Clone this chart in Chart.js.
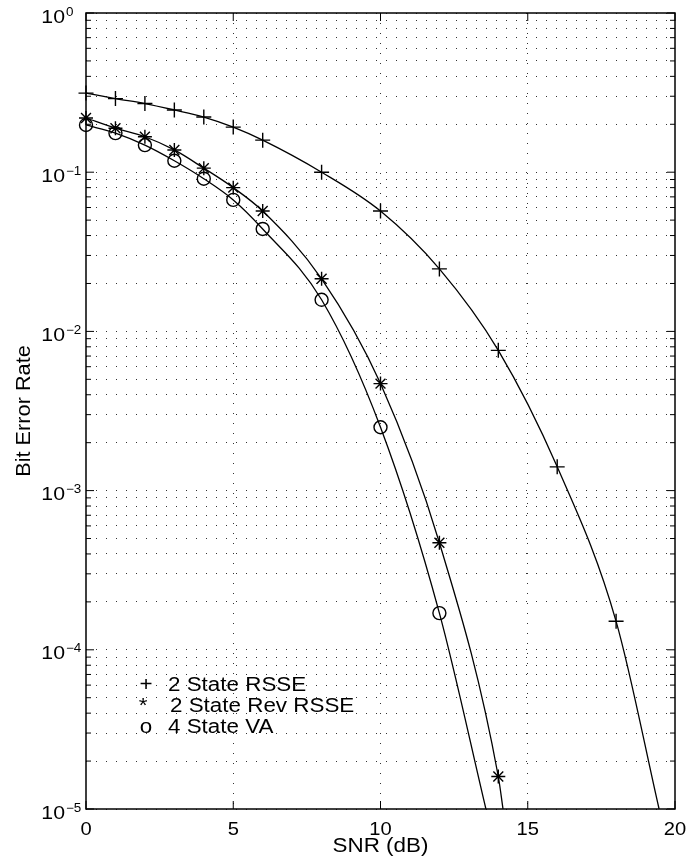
<!DOCTYPE html>
<html>
<head>
<meta charset="utf-8">
<script src="https://cdn.jsdelivr.net/npm/chart.js@4/dist/chart.umd.min.js"></script>
<style>
  html, body { margin: 0; padding: 0; background: #fff; }
  canvas { display: block; }
</style>
</head>
<body>
<canvas id="c" width="700" height="867"></canvas>
<script>
// ---- data ----
const snr1 = [0, 1, 2, 3, 4, 5, 6, 8, 10, 12, 14, 16, 18];
const ber1 = [0.314, 0.29, 0.27, 0.246, 0.222, 0.192, 0.159, 0.1, 0.057, 0.0247, 0.0076, 0.00141, 0.000151];

const snr2 = [0, 1, 2, 3, 4, 5, 6, 8, 10, 12, 14];
const ber2 = [0.219, 0.189, 0.167, 0.138, 0.106, 0.080, 0.057, 0.0214, 0.0047, 0.00047, 0.000016];

const snr3 = [0, 1, 2, 3, 4, 5, 6, 8, 10, 12];
const ber3 = [0.198, 0.176, 0.148, 0.118, 0.091, 0.067, 0.044, 0.0158, 0.0025, 0.00017];

// where each fitted curve leaves the plot at the bottom axis
const curveEndSnr = [19.46, 14.16, 13.58];
const curveEndBer = 1e-5;

const xTickValues = [0, 5, 10, 15, 20];
const yDecades = [-5, -4, -3, -2, -1, 0];
const yMinorMultipliers = [2, 3, 4, 5, 6, 7, 8, 9];

const seriesNames = ['2 State RSSE', '2 State Rev RSSE', '4 State VA'];
const legendSymbols = ['+', '*', 'o'];
const xTitle = 'SNR (dB)';
const yTitle = 'Bit Error Rate';

// ---- build tables ----
const yGridValues = [];
yDecades.forEach(d => {
  yGridValues.push(Math.pow(10, d));
  if (d < 0) yMinorMultipliers.forEach(m => yGridValues.push(m * Math.pow(10, d)));
});

function curve(xs, ys, endX) {
  const p = xs.map((x, i) => ({ x: x, y: ys[i] }));
  p.push({ x: endX, y: curveEndBer });
  return p;
}

function ds(xs, ys, endX, style, r) {
  const n = xs.length;
  return {
    data: curve(xs, ys, endX),
    showLine: true,
    borderColor: '#000',
    borderWidth: 1.3,
    cubicInterpolationMode: 'monotone',
    pointStyle: style,
    pointRadius: c => (c.dataIndex < n ? r : 0),
    pointBorderColor: '#000',
    pointBackgroundColor: 'rgba(0,0,0,0)',
    pointBorderWidth: 1.4,
    clip: false,
    fill: false
  };
}

const FONT = '"Liberation Sans", Arial, Helvetica, sans-serif';
const SX = 1.12; // the reference lettering is wider than Arial

function wideText(ctx, text, x, y, align) {
  ctx.save();
  ctx.translate(x, y);
  ctx.scale(SX, 1);
  ctx.textAlign = align;
  ctx.fillText(text, 0, 0);
  ctx.restore();
}

const frame = {
  id: 'frame',
  beforeDatasetsDraw(chart) {
    const ctx = chart.ctx, a = chart.chartArea;
    const xs = chart.scales.x, ys = chart.scales.y;
    ctx.save();
    ctx.strokeStyle = '#000';
    ctx.lineWidth = 1.5;
    ctx.setLineDash([]);
    ctx.strokeRect(a.left, a.top, a.right - a.left, a.bottom - a.top);
    ctx.lineWidth = 1;
    ctx.beginPath();
    yGridValues.forEach(v => {
      const y = ys.getPixelForValue(v);
      const major = Math.abs(Math.log10(v) - Math.round(Math.log10(v))) < 1e-9;
      const L = major ? 8 : 5;
      ctx.moveTo(a.left, y); ctx.lineTo(a.left + L, y);
      ctx.moveTo(a.right, y); ctx.lineTo(a.right - L, y);
    });
    xTickValues.forEach(v => {
      const x = xs.getPixelForValue(v);
      ctx.moveTo(x, a.bottom); ctx.lineTo(x, a.bottom - 8);
      ctx.moveTo(x, a.top); ctx.lineTo(x, a.top + 8);
    });
    ctx.stroke();
    ctx.restore();
  },
  afterDraw(chart) {
    const ctx = chart.ctx, a = chart.chartArea;
    const xs = chart.scales.x, ys = chart.scales.y;
    ctx.save();
    ctx.fillStyle = '#000';
    ctx.textBaseline = 'alphabetic';
    // y tick labels 10^d
    yDecades.forEach(d => {
      const y = ys.getPixelForValue(Math.pow(10, d));
      ctx.font = '19px ' + FONT;
      wideText(ctx, '10', 65, y + 9.5, 'right');
      ctx.font = '12px ' + FONT;
      wideText(ctx, d < 0 ? '\u2212' + (-d) : String(d), 66, y + 2.5, 'left');
    });
    // x tick labels
    ctx.font = '18px ' + FONT;
    xTickValues.forEach(v => {
      wideText(ctx, String(v), xs.getPixelForValue(v), 835, 'center');
    });
    // axis titles
    ctx.font = '20px ' + FONT;
    wideText(ctx, xTitle, (a.left + a.right) / 2, 852, 'center');
    ctx.save();
    ctx.translate(24, (a.top + a.bottom) / 2);
    ctx.rotate(-Math.PI / 2);
    ctx.scale(SX * 0.97, 1);
    ctx.textAlign = 'center';
    ctx.textBaseline = 'middle';
    ctx.fillText(yTitle, 0, 0);
    ctx.restore();
    // legend
    const baselines = [691, 712, 733];
    const symX = [146, 143, 146];
    const txtX = [168, 170, 168];
    ctx.font = '20px ' + FONT;
    seriesNames.forEach((name, i) => {
      wideText(ctx, legendSymbols[i], symX[i], baselines[i], 'center');
      wideText(ctx, name, txtX[i], baselines[i], 'left');
    });
    ctx.restore();
  }
};

new Chart(document.getElementById('c'), {
  type: 'scatter',
  data: {
    datasets: [
      ds(snr1, ber1, curveEndSnr[0], 'cross', 7.5),
      ds(snr2, ber2, curveEndSnr[1], 'star', 7),
      ds(snr3, ber3, curveEndSnr[2], 'circle', 6.5)
    ]
  },
  options: {
    responsive: false,
    animation: false,
    devicePixelRatio: 1,
    layout: { padding: { left: 86, right: 25, top: 13, bottom: 58 } },
    plugins: { legend: { display: false }, tooltip: { enabled: false } },
    scales: {
      x: {
        type: 'linear', min: 0, max: 20,
        afterBuildTicks: s => { s.ticks = xTickValues.map(v => ({ value: v })); },
        ticks: { display: false },
        grid: {
          drawTicks: false,
          lineWidth: 1,
          color: c => (c.tick && (c.tick.value === 0 || c.tick.value === 20)) ? 'rgba(0,0,0,0)' : '#333'
        },
        border: { display: false, dash: [1, 9] }
      },
      y: {
        type: 'logarithmic', min: 1e-5, max: 1,
        afterBuildTicks: s => { s.ticks = yGridValues.map(v => ({ value: v })); },
        ticks: { display: false },
        grid: { drawTicks: false, lineWidth: 1, color: '#333' },
        border: { display: false, dash: [1, 9] }
      }
    }
  },
  plugins: [frame]
});
</script>
</body>
</html>
